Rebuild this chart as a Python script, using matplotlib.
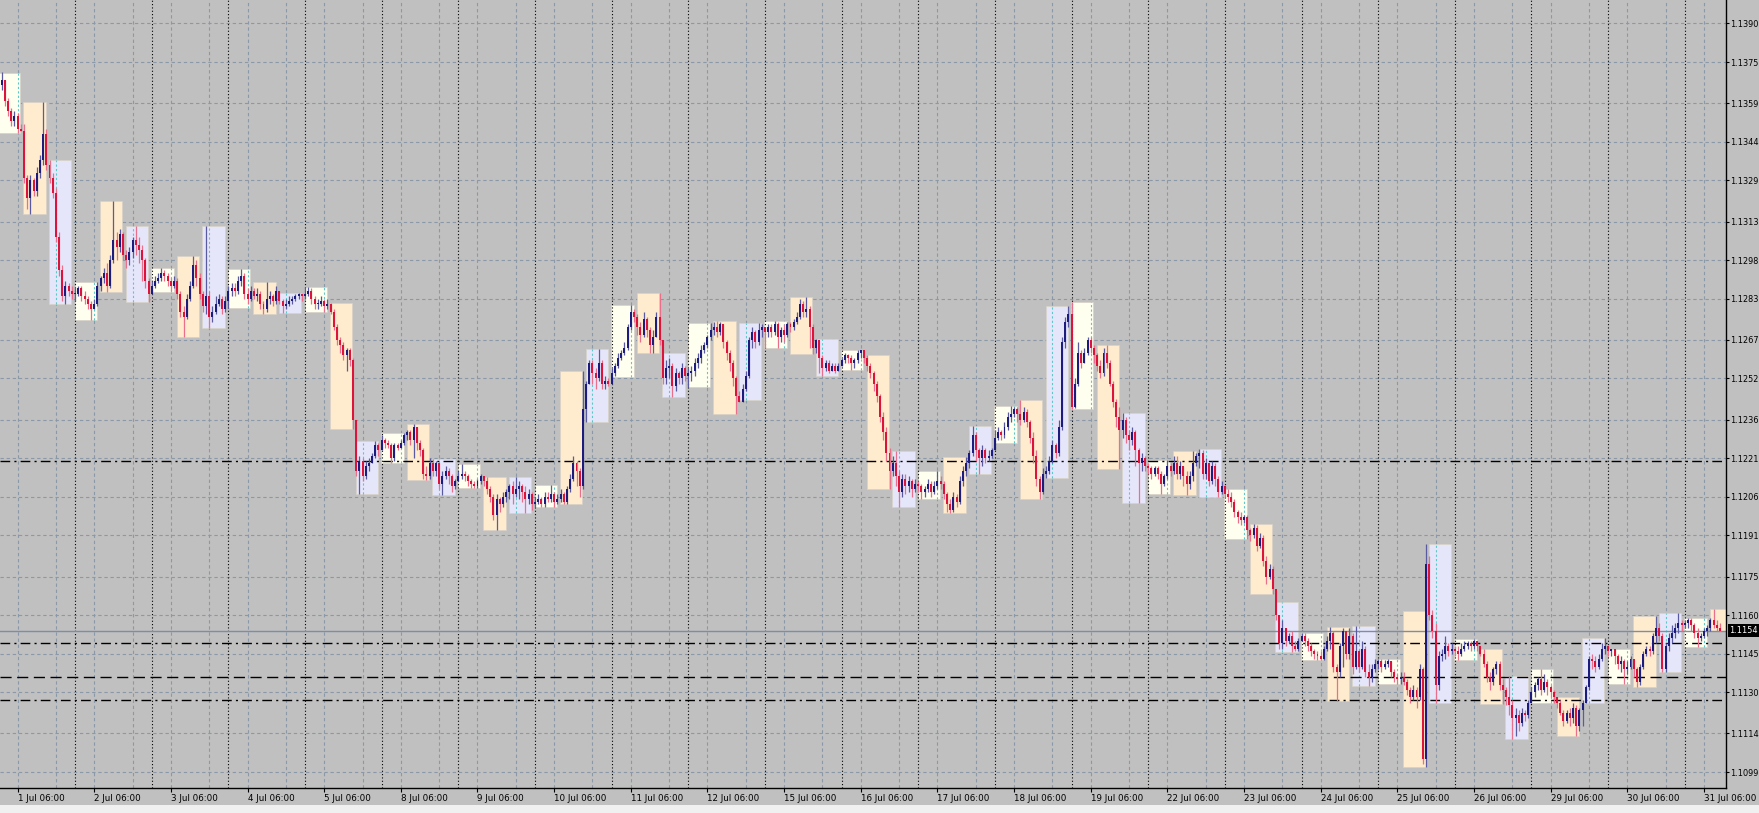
import numpy as np
import matplotlib.pyplot as plt
from matplotlib.patches import Rectangle
import matplotlib.transforms as mtransforms

# trading days shown (July)
days = [1, 2, 3, 4, 5, 8, 9, 10, 11, 12, 15, 16, 17, 18, 19, 22, 23, 24, 25, 26, 29, 30, 31]

# hourly candles, prices in pips above 1.1000 (e.g. 366 -> 1.1366)
first_open = 364
closes = [
    [366, 368, 360, 356, 352, 354, 349, 348, 330, 322, 329, 325, 332, 337, 347, 335, 330, 324, 307, 294, 284, 288, 286, 285],
    [285, 287, 284, 283, 281, 279, 281, 288, 291, 293, 288, 298, 306, 303, 308, 300, 298, 301, 306, 304, 302, 298, 290, 285],
    [288, 290, 291, 293, 292, 290, 288, 290, 285, 278, 276, 283, 288, 296, 291, 285, 280, 284, 276, 278, 281, 283, 279, 282],
    [286, 287, 286, 290, 292, 285, 283, 286, 284, 285, 281, 279, 283, 284, 282, 286, 282, 280, 281, 282, 283, 284, 285, 284],
    [285, 286, 283, 281, 281, 282, 280, 281, 278, 272, 267, 265, 261, 263, 259, 236, 216, 220, 214, 218, 219, 222, 226, 224],
    [228, 227, 226, 221, 226, 225, 227, 230, 231, 228, 233, 227, 224, 215, 214, 219, 216, 219, 211, 214, 216, 214, 210, 212],
    [214, 215, 214, 212, 211, 210, 212, 214, 212, 209, 206, 199, 205, 203, 206, 208, 210, 207, 209, 210, 208, 205, 207, 203],
    [204, 205, 203, 206, 205, 207, 204, 205, 207, 204, 209, 213, 219, 216, 210, 240, 250, 258, 254, 252, 258, 250, 251, 250],
    [254, 257, 260, 262, 264, 272, 278, 276, 272, 269, 275, 271, 265, 268, 276, 267, 252, 256, 257, 249, 254, 252, 256, 253],
    [254, 255, 258, 260, 263, 265, 268, 271, 272, 270, 273, 266, 262, 258, 252, 245, 243, 248, 253, 267, 270, 266, 271, 272],
    [270, 272, 270, 273, 268, 271, 269, 273, 272, 274, 276, 281, 278, 279, 272, 264, 267, 260, 256, 258, 255, 257, 255, 257],
    [259, 261, 260, 258, 259, 262, 263, 260, 257, 254, 250, 245, 237, 231, 223, 216, 219, 214, 208, 213, 210, 212, 209, 211],
    [210, 208, 209, 211, 208, 210, 212, 211, 207, 203, 201, 206, 204, 212, 216, 219, 223, 230, 224, 221, 224, 221, 222, 224],
    [229, 231, 230, 233, 237, 238, 240, 238, 236, 239, 235, 229, 222, 213, 208, 215, 216, 220, 226, 223, 233, 266, 274, 277],
    [241, 250, 262, 258, 262, 267, 264, 261, 257, 254, 262, 258, 250, 243, 237, 232, 236, 230, 228, 231, 224, 219, 221, 218],
    [217, 215, 217, 215, 211, 214, 218, 216, 219, 215, 218, 214, 211, 214, 219, 222, 223, 215, 219, 212, 218, 213, 208, 210],
    [207, 206, 204, 200, 198, 197, 198, 193, 191, 194, 187, 190, 181, 175, 178, 170, 160, 149, 155, 150, 152, 148, 147, 150],
    [152, 150, 148, 146, 145, 144, 143, 147, 150, 153, 140, 138, 148, 154, 145, 152, 140, 146, 140, 147, 138, 136, 139, 141],
    [142, 140, 141, 142, 138, 136, 135, 136, 134, 131, 128, 131, 128, 139, 104, 180, 160, 154, 133, 144, 145, 148, 146, 147],
    [146, 145, 147, 148, 149, 148, 150, 148, 145, 141, 136, 134, 139, 141, 133, 131, 128, 125, 120, 121, 118, 122, 121, 126],
    [130, 133, 135, 131, 134, 132, 130, 128, 126, 122, 119, 122, 120, 124, 117, 123, 126, 132, 143, 142, 140, 143, 147, 148],
    [146, 147, 144, 141, 142, 139, 140, 143, 139, 134, 140, 145, 147, 146, 152, 155, 152, 139, 148, 151, 153, 155, 157, 156],
    [157, 158, 156, 153, 151, 152, 154, 155, 158, 156, 155, 154],
]
highs = [
    [369, 371, 368, 361, 357, 356, 355, 351, 351, 331, 331, 330, 334, 339, 359.5, 349, 337, 332, 326, 309, 296, 290, 289, 288],
    [287, 288, 288, 286, 284, 282, 283, 289.3, 292, 295, 297, 300, 320.9, 309, 310, 309, 302, 303, 307, 311.3, 307, 304, 299, 291],
    [290, 292, 293, 294.8, 294, 293, 291, 292, 291, 286, 280, 285, 290, 299.6, 298, 293, 286, 311.3, 286, 280, 284, 285, 284, 284],
    [288, 289, 289, 292, 294.5, 293, 287, 288, 287, 287, 286, 282, 289.6, 286, 285, 288, 286, 283, 283, 284, 284, 285, 285.3, 285],
    [287.6, 287.6, 287, 284, 283, 284, 283, 283, 281.2, 279, 273, 268, 266, 264, 264, 260, 236, 222, 221, 220, 221, 223, 227.6, 227],
    [230, 229, 228, 227, 227, 227, 228, 230.9, 232, 232, 234.2, 233, 228, 225, 218, 221, 220.5, 220, 219, 216, 218, 217, 215, 213],
    [216, 218.6, 216, 215, 213, 212, 213, 215, 214, 213.8, 210, 207, 207, 206, 208, 209, 211, 212, 213.8, 212, 211, 210, 209, 208],
    [206, 207, 206, 208, 208, 210.7, 208, 207, 209, 208, 210, 215, 222, 220, 217, 254.7, 251, 259, 259, 256, 263.6, 259, 253, 252],
    [256, 258, 262, 263, 266, 273, 280.4, 279, 277, 274, 278, 276, 272, 271, 278, 285.4, 262, 259, 260, 258, 256, 255, 258, 257],
    [256, 257, 260, 262, 265, 266, 269, 273.4, 274, 274.4, 274, 273, 267, 263, 259, 253, 247, 250, 255, 268, 272, 271, 273.4, 273],
    [271, 273, 273, 274.4, 274, 272, 273, 274, 274, 275, 278, 283, 282, 283.7, 280, 273, 267.3, 267, 261, 259, 259, 258, 258, 258],
    [260, 262, 261.5, 261, 260, 263, 263, 263, 261.3, 258, 255, 251, 246, 239, 233, 225, 222, 223.8, 216, 215, 215, 214, 213, 213],
    [212, 211, 210, 213, 212, 212, 216, 214, 212, 208, 205, 208, 207, 214, 218, 221.6, 224, 233.5, 231, 225, 226, 225, 224, 225],
    [232, 233, 232, 235, 239, 241.2, 241, 241, 243.6, 241, 240, 236, 231, 224, 214, 217, 218, 222, 228, 227, 236, 268, 276, 280.2],
    [281.6, 252, 266, 263, 264, 268, 268, 265, 262, 259, 264, 265, 259, 251, 244, 241, 238.4, 237, 232, 233, 232, 225, 223, 222],
    [219, 218, 218, 218, 216, 215, 220.3, 219, 222, 222, 220, 218, 216, 216, 223.9, 223, 224.5, 224, 221, 219, 220, 219, 214, 212],
    [210, 209, 208, 205, 201, 200, 199, 199, 194, 195.6, 195, 192, 191, 183, 180, 179, 165.2, 160, 158, 155, 153, 154, 150, 151],
    [153.1, 153, 151, 149, 147, 146, 146, 148, 152, 155.2, 154, 141, 149, 155, 153, 155, 153, 155.7, 147, 150, 148, 141, 141, 143],
    [143, 142.9, 142.5, 143, 142, 139, 137, 138, 138, 135, 132, 133, 132, 141, 140, 187.5, 183, 162, 157, 146, 147, 152, 149, 149],
    [148, 148, 149, 150, 150, 150, 150.7, 150, 147, 146.8, 142, 138, 140, 142, 142, 135, 132, 136.4, 127, 124, 123, 124, 123, 127],
    [132, 134, 136, 138.9, 137, 135, 133, 131, 128.3, 127, 123, 123, 124, 126, 125, 124, 127, 133, 144, 145, 144, 145, 149, 151],
    [147, 147, 147, 145, 144, 143, 142, 144, 143, 140, 141, 146, 148, 148, 153, 159.6, 157, 153, 149, 153, 156, 157, 160.7, 158],
    [158, 159, 159, 157, 155, 153, 155, 156, 159, 162.2, 158, 157],
]
lows = [
    [362, 364, 358, 354, 350, 350, 347.5, 348, 328, 318, 316, 323, 323, 330, 335, 333, 328, 322, 305, 292, 282, 281, 284, 283],
    [282, 284, 282, 281, 279, 274.7, 279, 280, 286, 289, 285.7, 287, 297, 298, 301, 298, 295, 296, 299, 300, 297, 290, 287, 281.8],
    [285.7, 287, 289, 290, 290, 288, 286, 287, 283, 276, 268.3, 275, 282, 287, 288, 283, 278, 277, 271.7, 274, 277, 280, 277, 278],
    [279.2, 284, 284, 285, 288, 283, 281, 282, 283, 282, 279, 276.9, 278, 281, 280, 281, 281, 277.3, 279, 280, 281, 282, 283, 282],
    [283, 284, 281, 279, 279, 280, 277.9, 279, 277, 271, 265, 262, 259, 255, 257, 232.2, 214, 206.9, 212, 213, 216, 219, 221, 222],
    [224, 225, 225, 219.2, 220, 224, 225, 226, 228, 226, 221, 224, 222, 213, 212.4, 213, 214, 214, 209, 206.6, 213, 211, 208, 209],
    [212, 213, 212, 210, 209.4, 209.4, 209.5, 211, 210, 207, 204, 197, 193, 200, 202, 204, 205, 203, 206, 205, 204, 199.5, 203, 201],
    [201.9, 203, 202, 202, 204, 204, 202, 203, 204, 203, 203, 208, 212, 210, 206, 209, 235.2, 250, 250, 248, 251, 248, 248, 249],
    [252.6, 253, 256, 259, 261, 263, 271, 274, 269, 266, 268, 268, 262, 262, 268, 265, 250, 250, 252, 244.9, 247, 250, 250, 251],
    [248.7, 251, 253, 256, 258, 262, 264, 267, 269, 268, 269, 264, 259, 255, 249, 238, 243.6, 243.6, 247, 252, 264, 264, 265, 268],
    [263.7, 268, 268, 269, 264, 266, 266, 268, 270, 271, 273, 275, 276, 276, 264, 261.4, 262, 254, 252.9, 255, 254, 255, 254, 255],
    [257, 258, 258, 255.2, 256, 258, 260, 258, 255, 252, 247, 243, 235, 228, 220, 209, 214, 210, 202, 206, 207, 208, 206, 208],
    [208, 205, 206, 208, 206, 207, 209, 209, 205, 200, 199.8, 200, 202, 203, 210, 214, 217, 222, 220, 214.8, 218, 219, 220, 221],
    [226.9, 228, 228, 229, 232, 235, 237, 235, 234, 235, 233, 227, 219, 210, 205.1, 207, 213.3, 215, 219, 221, 222, 232, 264, 272],
    [240, 240.5, 249, 256, 258, 261, 262, 258, 255, 252, 253, 256, 249, 241, 233, 216.8, 229, 227, 224, 226, 218, 203.4, 216, 216],
    [215, 213, 214, 213, 207, 210, 213, 214, 215, 213, 213, 210, 206.7, 209, 212, 218, 217, 213, 213, 210, 211, 210, 206, 207],
    [206, 204, 202, 198, 196, 195, 196, 189.6, 189, 190, 185, 186, 179, 172, 174, 168.2, 158, 147, 147, 148, 149, 145.7, 146, 146],
    [150, 148, 146, 144, 143, 142.5, 142.5, 142.6, 146, 147, 138, 126.6, 136, 140, 143, 143, 137, 139, 138, 139, 136, 132.5, 134, 138],
    [139, 138, 139, 140, 136, 134, 133.2, 133.4, 133, 129, 126, 127, 124, 127, 102, 101, 158, 151, 125.9, 131, 142, 143, 144, 145],
    [144, 142.5, 144, 146, 147, 146, 147, 146, 144, 140, 134, 131, 133, 137, 131, 125.3, 125, 121, 111.8, 113, 115, 117, 119, 120],
    [125.7, 128, 131, 129, 130, 129, 128, 126, 124, 121, 117, 118, 117, 118, 113.1, 115, 117, 125.7, 131, 139, 138, 139, 142, 145],
    [144, 144, 141, 139, 138, 133.2, 137, 139, 136, 132.2, 133, 139, 144, 144, 145, 149, 150, 137.7, 138, 146, 149, 151, 153, 154],
    [155, 155, 154, 151, 147.7, 150, 151, 152, 154, 155, 153.8, 153.9],
]

# session boxes per day: Asia, Europe, America (pips above 1.1000)
sess_high = [
    [370.8, 359.5, 336.9], [289.3, 320.9, 311.3], [294.8, 299.6, 311.3], [294.5, 289.6, 285.3],
    [287.6, 281.2, 227.6], [230.9, 234.2, 220.5], [218.6, 213.8, 213.8], [210.7, 254.7, 263.6],
    [280.4, 285.4, 262.0], [273.4, 274.4, 273.4], [274.4, 283.7, 267.3], [263.0, 261.3, 223.8],
    [216.0, 221.6, 233.5], [241.2, 243.6, 280.2], [281.6, 265.0, 238.4], [220.3, 223.9, 224.5],
    [209.0, 195.6, 165.2], [153.1, 155.2, 155.7], [142.9, 161.5, 187.5], [150.7, 146.8, 136.4],
    [138.9, 128.3, 151.0], [147.0, 159.6, 160.7], [159.0, 162.2],
]
sess_low = [
    [347.5, 316.1, 280.8], [274.7, 285.7, 281.8], [285.7, 268.3, 271.7], [279.2, 276.9, 277.3],
    [277.9, 232.2, 206.9], [219.2, 212.4, 206.6], [209.4, 193.0, 199.5], [201.9, 203.0, 235.2],
    [252.6, 262.0, 244.9], [248.7, 238.0, 243.6], [263.7, 261.4, 252.9], [255.2, 209.0, 202.0],
    [205.0, 199.8, 214.8], [226.9, 205.1, 213.3], [240.0, 216.8, 203.4], [207.0, 206.7, 206.0],
    [189.6, 168.2, 145.7], [142.5, 126.6, 132.5], [133.2, 101.0, 125.9], [142.5, 125.3, 111.8],
    [125.7, 113.1, 125.7], [133.2, 132.2, 137.7], [147.7, 153.8],
]

levels = [1.1220, 1.1149, 1.1136, 1.1127]
y_labels = ["1.1099", "1.1114", "1.1130", "1.1145", "1.1160", "1.1175", "1.1191",
            "1.1206", "1.1221", "1.1236", "1.1252", "1.1267", "1.1283", "1.1298",
            "1.1313", "1.1329", "1.1344", "1.1359", "1.1375", "1.1390"]


def to_price(p):
    return 1.1 + np.asarray(p, dtype=float) / 10000.0


BG = "#c0c0c0"
GRID = "#8b98a8"
BOX_COLORS = ["#fffff0", "#ffebcd", "#e6e6fa"]
UP = "#1c1c7e"
DOWN = "#dc143c"

plt.rcParams["font.family"] = ["DejaVu Sans"]

fig = plt.figure(figsize=(17.59, 8.13), dpi=100, facecolor=BG)
ax = fig.add_axes([0, 25 / 813, 1726 / 1759, 788 / 813], facecolor=BG)

c = to_price(np.concatenate(closes))
h = to_price(np.concatenate(highs))
l = to_price(np.concatenate(lows))
t = np.arange(len(c))
o = np.r_[to_price(first_open), c[:-1]]
hi = np.maximum(h, np.maximum(o, c))
lo = np.minimum(l, np.minimum(o, c))
up = c >= o

ax.set_xlim(0.5, 540.9)
ax.set_ylim(1.10928, 1.13991)

# grid: horizontal at price labels, vertical at 06:00 and 18:00
ytick_vals = [float(s) for s in y_labels]
for yv in ytick_vals:
    ax.axhline(yv, color=GRID, lw=0.8, ls=(0, (3, 2.5)), zorder=0.5)
for d in range(len(days)):
    for hr in (6, 18):
        ax.axvline(d * 24 + hr, color=GRID, lw=0.8, ls=(0, (3, 2.5)), zorder=0.5)

# session boxes
for d, (his, los) in enumerate(zip(sess_high, sess_low)):
    for k, (bh, bl) in enumerate(zip(his, los)):
        t0 = d * 24 + 8 * k
        y0, y1 = to_price(bl), to_price(bh)
        ax.add_patch(Rectangle((t0 - 0.15, y0), 7, y1 - y0, facecolor=BOX_COLORS[k],
                               edgecolor="#d8d2c8", lw=0.5, zorder=1))
        for hr in (6, 18):
            if t0 <= d * 24 + hr <= t0 + 7:
                ax.vlines(d * 24 + hr, y0, y1, colors="#5cc8c8", lw=0.8,
                          linestyles=(0, (2, 2)), zorder=1.2)

# day separators
for d in range(1, len(days)):
    ax.axvline(d * 24, color="black", lw=0.8, ls=(0, (1, 2)), zorder=1.5)

# horizontal levels
level_styles = [(0, (7, 3, 1.5, 3)), (0, (7, 3, 1.5, 3)), (0, (8, 4)), (0, (7, 3, 1.5, 3))]
for lv, st in zip(levels, level_styles):
    ax.axhline(lv, color="black", lw=1.0, ls=st, zorder=1.6)

# current price line
last = c[-1]
ax.axhline(last, color="#7d8ea2", lw=1.0, zorder=1.7)

# candles
wick_cols = np.where(up, "#5a5aa0", "#e8708c")
ax.vlines(t, lo, hi, colors=wick_cols, lw=0.9, zorder=2)
body_h = np.maximum(np.abs(c - o), 0.00002)
ax.bar(t, body_h, bottom=np.minimum(o, c), width=0.62,
       color=np.where(up, UP, DOWN), linewidth=0, zorder=3)

# axes, ticks
for s in ("top", "left"):
    ax.spines[s].set_visible(False)
for s in ("right", "bottom"):
    ax.spines[s].set_color("black")
    ax.spines[s].set_linewidth(1.0)

ax.yaxis.tick_right()
ax.set_yticks(ytick_vals)
ax.set_yticklabels(y_labels)
ax.set_xticks([d * 24 + 6 for d in range(len(days))])
ax.set_xticklabels([f"{dy} Jul 06:00" for dy in days])
for lab in ax.get_xticklabels():
    lab.set_ha("left")
ax.tick_params(axis="x", labelsize=6.3, length=3, width=0.8, colors="black", pad=1.5)
ax.tick_params(axis="y", labelsize=5.9, length=2, width=0.8, colors="black", pad=1)

trans = mtransforms.blended_transform_factory(ax.transAxes, ax.transData)
ax.text(1.0 + 3.5 / 1726, last, f"{last:.4f}", transform=trans, ha="left", va="center",
        color="white", fontsize=5.9, zorder=10, clip_on=False,
        bbox=dict(boxstyle="square,pad=0.2", fc="black", ec="none"))

fig.patches.append(Rectangle((0, 0), 1, 8 / 813, transform=fig.transFigure,
                             facecolor="#f0f0f0", edgecolor="none"))

fig.savefig("out.png", dpi=100, facecolor=BG)
